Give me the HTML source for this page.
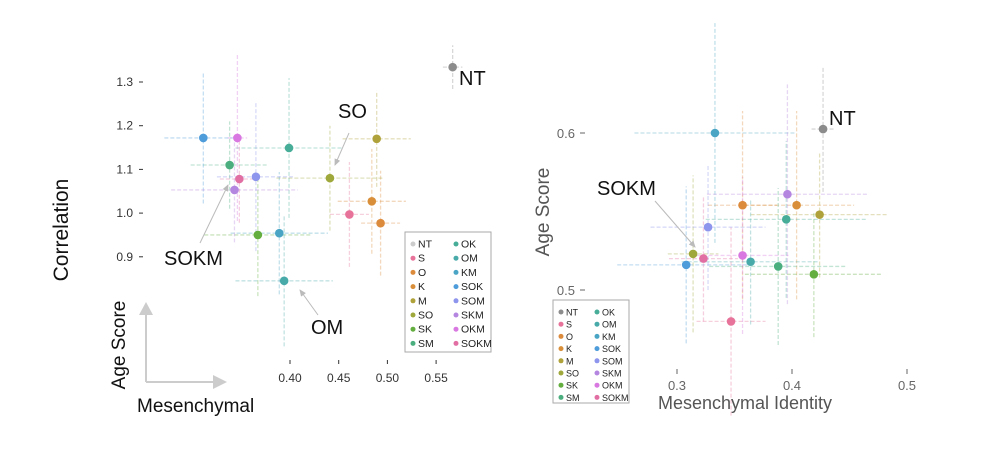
<!DOCTYPE html>
<html><head><meta charset="utf-8"><style>
body{margin:0;background:#fff;}
svg{display:block;font-family:"Liberation Sans","DejaVu Sans",sans-serif;}
</style></head><body>
<svg id="c" width="1000" height="469" viewBox="0 0 1000 469">
<defs>
<marker id="ah" markerWidth="8" markerHeight="8" refX="6" refY="4" orient="auto"><path d="M0,1 L7,4 L0,7 Z" fill="#bbb"/></marker>
</defs>
</svg>
<script>
const names=["NT","S","O","K","M","SO","SK","SM","OK","OM","KM","SOK","SOM","SKM","OKM","SOKM"];
const colors=["#8c8c8c","#e8739a","#dc8a3c","#d98f3a","#b0a23a","#9fa83b","#63ae3f","#4aae7e","#47ad98","#49aaaa","#4aa5c5","#4f9cda","#8e95ec","#b586e0","#d878e0","#e26fa3"];
// left panel data
const lx=[0.567,0.461,0.493,0.484,0.489,0.441,0.367,0.338,0.399,0.394,0.389,0.311,0.365,0.343,0.346,0.348];
const ly=[1.334,0.997,0.977,1.027,1.170,1.080,0.950,1.110,1.149,0.845,0.954,1.172,1.083,1.053,1.172,1.078];
const lxe=[0.01,0.02,0.02,0.035,0.035,0.055,0.055,0.04,0.055,0.05,0.05,0.04,0.04,0.065,0.01,0.02];
const lye=[0.05,0.12,0.12,0.12,0.11,0.12,0.14,0.10,0.16,0.15,0.14,0.15,0.17,0.12,0.19,0.10];
// right panel data
const rx=[0.427,0.347,0.357,0.404,0.424,0.314,0.419,0.388,0.395,0.364,0.333,0.308,0.327,0.396,0.357,0.323];
const ry=[0.6025,0.480,0.554,0.554,0.548,0.523,0.510,0.515,0.545,0.518,0.600,0.516,0.540,0.561,0.522,0.520];
const rxe=[0.01,0.03,0.03,0.05,0.06,0.022,0.06,0.06,0.07,0.06,0.07,0.06,0.05,0.07,0.04,0.03];
const rye=[0.04,0.06,0.06,0.06,0.04,0.05,0.04,0.05,0.05,0.04,0.07,0.05,0.04,0.07,0.05,0.04];
const lyTicks=[1.3,1.2,1.1,1.0,0.9];
const lxTicks=[0.40,0.45,0.50,0.55];
const ryTicks=[0.6,0.5];
const rxTicks=[0.3,0.4,0.5];

const svg=document.getElementById('c');
const NS="http://www.w3.org/2000/svg";
function mk(tag,attrs,parent){const e=document.createElementNS(NS,tag);for(const k in attrs)e.setAttribute(k,attrs[k]);(parent||svg).appendChild(e);return e;}
function txt(s,attrs,parent){const e=mk('text',attrs,parent);e.textContent=s;return e;}

const LX=v=>290+(v-0.4)*974, LY=v=>82+(1.3-v)*437;
const RX=v=>677+(v-0.3)*1150, RY=v=>133+(0.6-v)*1570;

function panel(X,Y,xs,ys,xe,ye,pname){
  const g=mk('g',{});
  
  
  for(let i=0;i<xs.length;i++){
    const cx=X(xs[i]),cy=Y(ys[i]);
    const eb=mk('g',{stroke:colors[i],'stroke-width':1.3,'stroke-dasharray':'4,2',opacity:0.33},g);
    
    
    mk('line',{x1:X(xs[i]-xe[i]),x2:X(xs[i]+xe[i]),y1:cy,y2:cy},eb);
    mk('line',{x1:cx,x2:cx,y1:Y(ys[i]-ye[i]),y2:Y(ys[i]+ye[i])},eb);
  }
  for(let i=0;i<xs.length;i++){
    const c=mk('circle',{cx:X(xs[i]),cy:Y(ys[i]),r:4.3,fill:colors[i]},g);
    
    
  }
}
panel(LX,LY,lx,ly,lxe,lye,'left');
panel(RX,RY,rx,ry,rxe,rye,'right');

lyTicks.forEach(v=>{
  const t=txt(v.toFixed(1),{x:133,y:LY(v)+4,'font-size':12,fill:'#333','text-anchor':'end'});
  
  
  mk('line',{x1:139,x2:143,y1:LY(v),y2:LY(v),stroke:'#333'});
});
lxTicks.forEach(v=>{
  mk('line',{x1:LX(v),x2:LX(v),y1:360,y2:364,stroke:'#333'});
  const t=txt(v.toFixed(2),{x:LX(v),y:382,'font-size':12,fill:'#333','text-anchor':'middle'});
  
  
});
ryTicks.forEach(v=>{
  const t=txt(v.toFixed(1),{x:575,y:RY(v)+5,'font-size':13,fill:'#666','text-anchor':'end'});
  
  
  mk('line',{x1:580,x2:585,y1:RY(v),y2:RY(v),stroke:'#666'});
});
rxTicks.forEach(v=>{
  mk('line',{x1:RX(v),x2:RX(v),y1:369,y2:374,stroke:'#666'});
  const t=txt(v.toFixed(1),{x:RX(v),y:390,'font-size':13,fill:'#666','text-anchor':'middle'});
  
  
});

function ann(s,tx,ty,x1,y1,x2,y2,name){
  const t=txt(s,{x:tx,y:ty,'font-size':20,fill:'#111'});
  
  
  if(x1!=null) mk('line',{x1:x1,y1:y1,x2:x2,y2:y2,stroke:'#bbb','stroke-width':1,'marker-end':'url(#ah)'});
}
ann('NT',459,85,null,null,null,null,'left-nt-label');
ann('SO',338,118,349,133,335,165,'so-label');
ann('SOKM',164,265,200,243,228,185,'left-sokm-label');
ann('OM',311,334,318,315,300,290,'om-label');
ann('NT',829,125,null,null,null,null,'right-nt-label');
ann('SOKM',597,195,655,201,695,247,'right-sokm-label');

function legend(x0,y0,w,h,fs,dy,col2,name){
  const g=mk('g',{});
  
  
  mk('rect',{x:x0,y:y0,width:w,height:h,fill:'#fff',stroke:'#aaa','stroke-width':1},g);
  for(let i=0;i<16;i++){
    const c=i<8?0:1, r=i%8;
    const x=x0+8+c*col2, y=y0+12+r*dy;
    mk('circle',{cx:x,cy:y,r:2.5,fill:i==0&&name=='left-legend'?'#ccc':colors[i]},g);
    const t=txt(names[i],{x:x+5,y:y+3.5,'font-size':fs,fill:'#222'},g);
    
    
  }
}
legend(405,232,86,120,10.5,14.2,43,'left-legend');
legend(553,300,76,103,9,12.2,36,'right-legend');

let t=txt('Correlation',{x:0,y:0,'font-size':21,fill:'#111','text-anchor':'middle',transform:'translate(68,230) rotate(-90)'});

t=txt('Age Score',{x:0,y:0,'font-size':19,fill:'#111','text-anchor':'middle',transform:'translate(125,345) rotate(-90)'});

t=txt('Mesenchymal',{x:137,y:412,'font-size':19,fill:'#111'});

mk('path',{d:'M146,382 L146,312',stroke:'#ccc','stroke-width':2,fill:'none'});
mk('path',{d:'M139,315 L146,302 L153,315 Z',fill:'#ccc'});
mk('path',{d:'M146,382 L215,382',stroke:'#ccc','stroke-width':2,fill:'none'});
mk('path',{d:'M213,375 L227,382 L213,389 Z',fill:'#ccc'});
t=txt('Age Score',{x:0,y:0,'font-size':19,fill:'#555','text-anchor':'middle',transform:'translate(549,212) rotate(-90)'});

t=txt('Mesenchymal Identity',{x:745,y:409,'font-size':18,fill:'#555','text-anchor':'middle'});

</script>
</body></html>
